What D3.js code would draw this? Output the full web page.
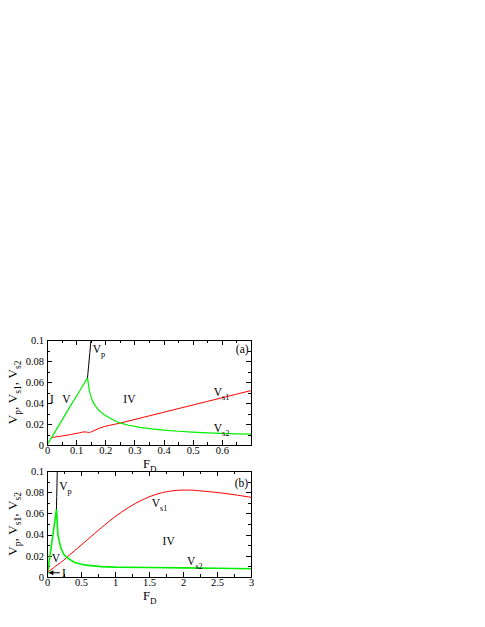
<!DOCTYPE html>
<html><head><meta charset="utf-8">
<script src="https://cdn.jsdelivr.net/npm/d3@7"></script>
<style>
html,body{margin:0;padding:0;background:#fff;}
svg{display:block;}
</style></head>
<body>
<svg id="chart" width="485" height="627"></svg>
<script>
// ---------- data ----------
const yTicks = [0, 0.02, 0.04, 0.06, 0.08, 0.1];
const yTickLabels = ["0", "0.02", "0.04", "0.06", "0.08", "0.1"];
const xTicksA = [0, 0.1, 0.2, 0.3, 0.4, 0.5, 0.6];
const xTickLabelsA = ["0", "0.1", "0.2", "0.3", "0.4", "0.5", "0.6"];
const xTicksB = [0, 0.5, 1, 1.5, 2, 2.5, 3];
const xTickLabelsB = ["0", "0.5", "1", "1.5", "2", "2.5", "3"];

// panel (a)
const vpA_F = [0.139, 0.143, 0.147, 0.151];
const vpA_V = [0.064, 0.076, 0.088, 0.1];
const vs2A_F = [0, 0.02, 0.05, 0.08, 0.11, 0.139, 0.142, 0.145, 0.15, 0.156, 0.165, 0.179, 0.195, 0.214, 0.23, 0.25, 0.28, 0.32, 0.36, 0.4, 0.45, 0.5, 0.55, 0.6, 0.65, 0.7];
const vs2A_V = [0, 0.0092, 0.023, 0.037, 0.0505, 0.064, 0.058, 0.052, 0.047, 0.042, 0.0375, 0.0327, 0.029, 0.026, 0.0235, 0.021, 0.0188, 0.0168, 0.0153, 0.0142, 0.0131, 0.0122, 0.0115, 0.0110, 0.0106, 0.0103];
const vs1A_F = [0.015, 0.02, 0.05, 0.08, 0.11, 0.125, 0.135, 0.142, 0.15, 0.165, 0.18, 0.25, 0.35, 0.45, 0.55, 0.65, 0.7];
const vs1A_V = [0.0068, 0.0072, 0.0085, 0.0099, 0.0115, 0.0124, 0.0124, 0.0118, 0.0123, 0.0142, 0.016, 0.0208, 0.0277, 0.0346, 0.0415, 0.0484, 0.0518];

// panel (b)
const vpB_F = [0.139, 0.143, 0.147, 0.151];
const vpB_V = [0.064, 0.076, 0.088, 0.1];
const vs2B_F = [0, 0.05, 0.1, 0.14, 0.16, 0.2, 0.25, 0.3, 0.4, 0.5, 0.6, 0.8, 1.0, 1.5, 2.0, 2.5, 3.0];
const vs2B_V = [0, 0.023, 0.046, 0.064, 0.040, 0.028, 0.021, 0.018, 0.014, 0.012, 0.011, 0.0098, 0.0093, 0.0089, 0.0086, 0.0082, 0.0078];
const vs1B_F = [0.02, 0.06, 0.10, 0.13, 0.15, 0.2, 0.3, 0.4, 0.5, 0.6, 0.7, 0.8, 0.9, 1.0, 1.1, 1.2, 1.3, 1.4, 1.5, 1.6, 1.7, 1.8, 1.9, 2.0, 2.1, 2.2, 2.4, 2.6, 2.8, 3.0];
const vs1B_V = [0.005, 0.007, 0.0088, 0.0105, 0.0112, 0.0135, 0.019, 0.0245, 0.030, 0.0355, 0.041, 0.0465, 0.0518, 0.0568, 0.0614, 0.0656, 0.0694, 0.0727, 0.0756, 0.0779, 0.0797, 0.0809, 0.0817, 0.082, 0.082, 0.0816, 0.0804, 0.079, 0.0772, 0.0752];

// ---------- drawing ----------
const FONT = '"Liberation Serif","Times New Roman",serif';
const TICK_FS = 10.5, ANN_FS = 11.5;
const svg = d3.select("#chart").attr("font-family", FONT);
svg.append("rect").attr("width", 485).attr("height", 627).attr("fill", "#fff");

const zip = (a, b) => a.map((v, i) => [v, b[i]]);

function ylabel(g, cx, cy) {
  const t = g.append("text")
    .attr("transform", `translate(${cx},${cy}) rotate(-90)`)
    .attr("text-anchor", "middle")
    .attr("font-family", FONT)
    .attr("font-size", 13.5);
  const parts = [["V", false], ["p", true], [", V", false], ["s1", true], [", V", false], ["s2", true]];
  parts.forEach(([s, sub]) => {
    t.append("tspan").text(s)
      .attr("font-size", sub ? 9.5 : 13.5)
      .attr("dy", sub ? 4 : (s === "V" ? 0 : -4));
  });
}

function subLabel(g, x, y, main, sub, size) {
  const t = g.append("text").attr("x", x).attr("y", y).attr("font-size", size).attr("font-family", FONT);
  t.append("tspan").text(main);
  t.append("tspan").text(sub).attr("font-size", size * 0.72).attr("dy", 4);
  return t;
}

function txt(g, x, y, s) {
  return g.append("text").attr("x", x).attr("y", y).attr("font-size", ANN_FS).attr("font-family", FONT).text(s);
}

function panel(cfg) {
  const g = svg.append("g");
  const x = d3.scaleLinear().domain(cfg.xDomain).range([cfg.left, cfg.right]);
  const y = d3.scaleLinear().domain([0, 0.1]).range([cfg.bottom, cfg.top]);

  // ticks (inward, mirrored)
  const major = 5, minor = 3;
  const tg = g.append("g").attr("stroke", "#000").attr("stroke-width", 1);
  const xMinor = d3.range(cfg.xDomain[0], cfg.xDomain[1] + 1e-9, cfg.xMinorStep);
  const yMinor = d3.range(0, 0.1 + 1e-9, 0.01);
  xMinor.forEach(v => {
    const isMaj = cfg.xTicks.some(t => Math.abs(t - v) < 1e-9);
    const L = isMaj ? major : minor;
    const px = Math.round(x(v)) + 0.5;
    tg.append("line").attr("x1", px).attr("x2", px).attr("y1", cfg.bottom).attr("y2", cfg.bottom - L);
    tg.append("line").attr("x1", px).attr("x2", px).attr("y1", cfg.top).attr("y2", cfg.top + L);
  });
  yMinor.forEach(v => {
    const isMaj = yTicks.some(t => Math.abs(t - v) < 1e-9);
    const L = isMaj ? major : minor;
    const py = Math.round(y(v)) + 0.5;
    tg.append("line").attr("y1", py).attr("y2", py).attr("x1", cfg.left).attr("x2", cfg.left + L);
    tg.append("line").attr("y1", py).attr("y2", py).attr("x1", cfg.right).attr("x2", cfg.right - L);
  });

  // tick labels via d3 axes (no lines)
  const xAxis = d3.axisBottom(x).tickValues(cfg.xTicks).tickFormat((d, i) => cfg.xTickLabels[i]).tickSize(0).tickPadding(2);
  const ax = g.append("g").attr("transform", `translate(0,${cfg.bottom})`).call(xAxis)
    .attr("font-family", FONT).attr("font-size", TICK_FS);
  ax.select(".domain").remove();
  ax.selectAll("text").attr("fill", "#000");
  const yAxis = d3.axisLeft(y).tickValues(yTicks).tickFormat((d, i) => yTickLabels[i]).tickSize(0).tickPadding(3);
  const ay = g.append("g").attr("transform", `translate(${cfg.left},0)`).call(yAxis)
    .attr("font-family", FONT).attr("font-size", TICK_FS);
  ay.select(".domain").remove();
  ay.selectAll("text").attr("fill", "#000");

  // lines
  const line = d3.line().x(d => x(d[0])).y(d => y(d[1]));
  const smooth = d3.line().curve(d3.curveMonotoneX).x(d => x(d[0])).y(d => y(d[1]));
  const clipId = "clip" + cfg.name;
  g.append("clipPath").attr("id", clipId).append("rect")
    .attr("x", cfg.left).attr("y", cfg.top).attr("width", cfg.right - cfg.left).attr("height", cfg.bottom - cfg.top);
  const lg = g.append("g").attr("clip-path", `url(#${clipId})`).attr("fill", "none");
  lg.append("path").attr("d", smooth(zip(cfg.vs1F, cfg.vs1V))).attr("stroke", "#ff0000").attr("stroke-width", 1);
  lg.append("path").attr("d", line(zip(cfg.vs2F, cfg.vs2V))).attr("stroke", "#00ee00").attr("stroke-width", cfg.greenW);
  lg.append("path").attr("d", line(zip(cfg.vpF, cfg.vpV))).attr("stroke", "#000").attr("stroke-width", 1);

  // frame
  g.append("rect").attr("x", cfg.left + 0.5).attr("y", cfg.top + 0.5)
    .attr("width", cfg.right - cfg.left).attr("height", cfg.bottom - cfg.top)
    .attr("fill", "none").attr("stroke", "#000").attr("stroke-width", 1);

  // axis titles
  ylabel(g, 17, (cfg.top + cfg.bottom) / 2);
  subLabel(g, (cfg.left + cfg.right) / 2 - 6, cfg.bottom + 23, "F", "D", 12.5);

  cfg.annot(g, x, y);
}

panel({
  name: "a", left: 47, right: 251, top: 340, bottom: 445,
  xDomain: [0, 0.7], xTicks: xTicksA, xTickLabels: xTickLabelsA, xMinorStep: 0.05,
  vpF: vpA_F, vpV: vpA_V, vs1F: vs1A_F, vs1V: vs1A_V, vs2F: vs2A_F, vs2V: vs2A_V, greenW: 1.2,
  annot: (g, x, y) => {
    txt(g, x(0.01), y(0.040), "I");
    txt(g, x(0.052), y(0.040), "V");
    txt(g, x(0.262), y(0.040), "IV");
    subLabel(g, x(0.157), y(0.088), "V", "p", ANN_FS);
    subLabel(g, x(0.572), y(0.047), "V", "s1", ANN_FS);
    subLabel(g, x(0.572), y(0.0125), "V", "s2", ANN_FS);
    txt(g, x(0.648), y(0.088), "(a)");
  }
});

panel({
  name: "b", left: 47, right: 251, top: 471, bottom: 577,
  xDomain: [0, 3], xTicks: xTicksB, xTickLabels: xTickLabelsB, xMinorStep: 0.25,
  vpF: vpB_F, vpV: vpB_V, vs1F: vs1B_F, vs1V: vs1B_V, vs2F: vs2B_F, vs2V: vs2B_V, greenW: 1.6,
  annot: (g, x, y) => {
    subLabel(g, x(0.18), y(0.082), "V", "p", ANN_FS);
    subLabel(g, x(1.54), y(0.066), "V", "s1", ANN_FS);
    txt(g, x(1.7), y(0.030), "IV");
    subLabel(g, x(2.06), y(0.0115), "V", "s2", ANN_FS);
    txt(g, x(0.07), y(0.014), "V");
    txt(g, x(2.76), y(0.085), "(b)");
    // arrow to region I
    const ay = y(0.004);
    g.append("line").attr("x1", x(0.19)).attr("x2", x(0.04)).attr("y1", ay).attr("y2", ay)
      .attr("stroke", "#000").attr("stroke-width", 1);
    g.append("path").attr("d", `M${x(0.02)},${ay} l5,-2.5 l0,5 z`).attr("fill", "#000");
    txt(g, x(0.22), ay + 4, "I");
  }
});
</script>
</body></html>
